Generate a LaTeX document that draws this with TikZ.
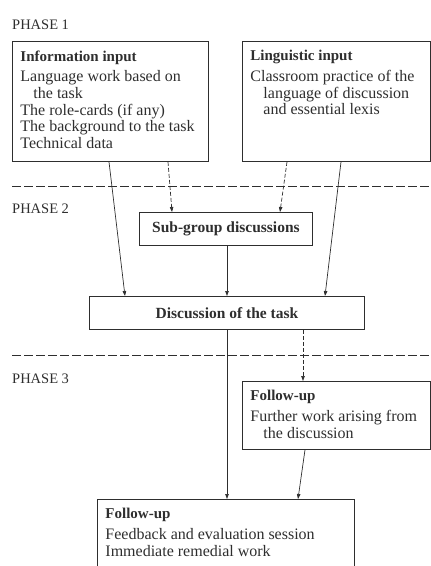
\documentclass[tikz,border=0pt]{standalone}
\usepackage{fontspec}
\setmainfont{Liberation Serif}
\usepackage{tikz}
\usetikzlibrary{arrows.meta}
\colorlet{ink}{black!82}
\tikzstyle{phase}=[anchor=base west,inner sep=0pt,font=\fontsize{14.5}{17}\selectfont]
\tikzstyle{stage}=[draw=ink,line width=.9pt,anchor=north west,inner xsep=8pt,inner ysep=9pt]
\tikzstyle{stagename}=[draw=ink,line width=.9pt,anchor=north west,minimum height=33pt,font=\fontsize{15.5}{17}\selectfont\bfseries]
\tikzstyle{flowhead}=[>/.tip={Triangle[length=5pt,width=3.5pt]}]
\tikzstyle{flow}=[line width=.7pt,draw=ink,flowhead,->]
\tikzstyle{dashflow}=[flow,dash pattern=on 4pt off 2pt]
\tikzstyle{phaserule}=[ink,line width=.7pt,dash pattern=on 9pt off 3pt]
\newcommand\stagetext[4]{\parbox[t][#1pt][t]{#2pt}{\raggedright\fontsize{16}{16.7}\selectfont
  {\fontsize{15}{17}\selectfont\bfseries #3}\par\vspace{4pt}#4}}
\newcommand\cont{\\\hspace*{13pt}}

\begin{document}
\begin{tikzpicture}[x=1pt,y=-1pt,text=ink]
	\useasboundingbox (0,0) rectangle (431,566);
	\clip (0,0) rectangle (431,566);
	\node[phase] (p1) at (12,29)  {PHASE 1};
	\node[phase] (p2) at (12,213) {PHASE 2};
	\node[phase] (p3) at (12,383) {PHASE 3};
	\node[stage] (info) at (12,41)  {\stagetext{102}{180}{Information input}{Language work based on\cont the task\\The role-cards (if any)\\The background to the task\\Technical data}};
	\node[stage] (ling) at (242,41) {\stagetext{102}{172}{Linguistic input}{Classroom practice of the\cont language of discussion\cont and essential lexis}};
	\node[stagename,minimum width=173pt] (sub)  at (139,212) {Sub-group discussions};
	\node[stagename,minimum width=275pt] (disc) at (89,296)  {Discussion of the task};
	\node[stage] (more) at (242,381) {\stagetext{50}{172}{Follow-up}{Further work arising from\cont the discussion}};
	\node[stage] (fb)   at (97,499)  {\stagetext{90}{241}{Follow-up}{Feedback and evaluation session\\Immediate remedial work}};
	\draw[phaserule] (12,186) -- (431,186);
	\draw[phaserule] (12,355) -- (431,355);
	\draw[flow]     ([xshift=97pt]info.south west)  -- ([xshift=36pt]disc.north west);
	\draw[dashflow] ([xshift=156pt]info.south west) -- ([xshift=33pt]sub.north west);
	\draw[dashflow] ([xshift=45pt]ling.south west)  -- ([xshift=141pt]sub.north west);
	\draw[flow]     ([xshift=99pt]ling.south west)  -- ([xshift=236pt]disc.north west);
	\draw[flow]     ([xshift=88pt]sub.south west)   -- ([xshift=138pt]disc.north west);
	\draw[flow]     ([xshift=138pt]disc.south west) -- ([xshift=130pt]fb.north west);
	\draw[dashflow] ([xshift=214pt]disc.south west) -- ([xshift=61pt]more.north west);
	\draw[flow]     ([xshift=63pt]more.south west)  -- ([xshift=201pt]fb.north west);
\end{tikzpicture}
\end{document}
